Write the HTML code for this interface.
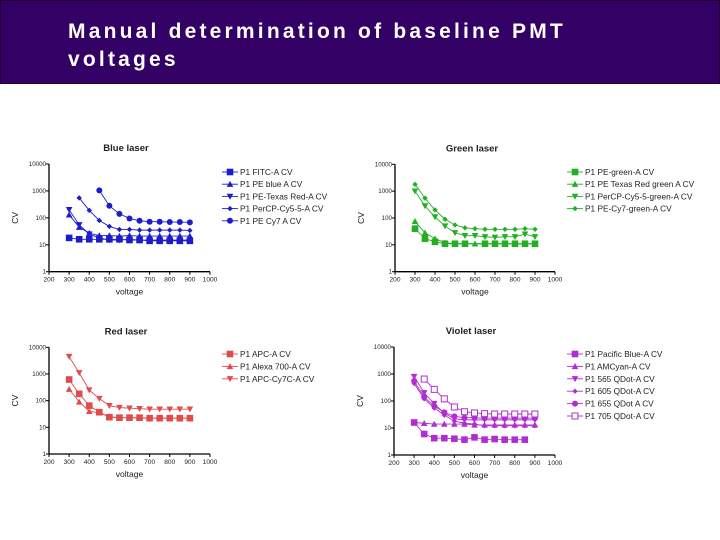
<!DOCTYPE html>
<html><head><meta charset="utf-8">
<style>
body{margin:0;width:720px;height:540px;background:#fff;overflow:hidden;font-family:"Liberation Sans",sans-serif}
#hdr{position:absolute;left:0;top:0;width:718px;height:82px;background:#330066;border:1px solid #1a0033}
#hdr h1{margin:0;position:absolute;left:67px;top:17px;color:#fff;font:bold 21px/28px "Liberation Sans",sans-serif;letter-spacing:3.2px}
svg{position:absolute;left:0;top:0}
</style></head><body>
<div id="hdr"><h1>Manual determination of baseline PMT<br>voltages</h1></div>
<svg id="c" width="720" height="540"></svg>
<script>
const voltages=[300,350,400,450,500,550,600,650,700,750,800,850,900];
const xTicks=[200,300,400,500,600,700,800,900,1000];
const yTicks=[1,10,100,1000,10000];
// Blue laser
const blueNames=["P1 FITC-A CV","P1 PE blue A CV","P1 PE-Texas Red-A CV","P1 PerCP-Cy5-5-A CV","P1 PE Cy7 A CV"];
const blueFITC=[18,16,16,16,16,16,15,15,14,14,14,14,14];
const bluePE=[130,45,27,22,22,21,22,21,21,21,21,21,21];
const bluePETR=[200,55,25,18,15,15,16,15,15,15,15,15,15];
const bluePerCP=[null,550,190,80,48,37,37,35,35,35,35,35,34];
const bluePECy7=[null,null,null,1050,280,140,95,78,72,72,70,70,68];
// Green laser
const greenNames=["P1 PE-green-A CV","P1 PE Texas Red green A CV","P1 PerCP-Cy5-5-green-A CV","P1 PE-Cy7-green-A CV"];
const greenPE=[40,17,13,11,11,11,null,11,11,11,11,11,11];
const greenPETR=[75,28,17,12,11,11,11,11,11,11,11,11,11];
const greenPerCP=[1000,280,110,50,28,22,22,20,19,20,20,25,20];
const greenPECy7=[1800,550,200,90,55,43,40,38,38,38,38,40,38];
// Red laser
const redNames=["P1 APC-A CV","P1 Alexa 700-A CV","P1 APC-Cy7C-A CV"];
const redAPC=[620,180,65,37,24,23,23,23,22,22,22,22,22];
const redAlexa=[270,90,40,35,25,23,23,22,22,22,22,22,22];
const redAPCCy7=[4500,1100,250,120,65,55,52,50,48,48,48,48,48];
// Violet laser
const violetNames=["P1 Pacific Blue-A CV","P1 AMCyan-A CV","P1 565 QDot-A CV","P1 605 QDot-A CV","P1 655 QDot A CV","P1 705 QDot-A CV"];
const violetPB=[16,6,4.2,4.2,4,3.7,4.5,3.7,3.9,3.7,3.7,3.7,null];
const violetAM=[16,15,14,14,14,14,13,13,13,13,13,13,13];
const violet565=[800,200,80,35,22,20,20,20,20,20,20,20,20];
const violet605=[450,120,55,30,18,15,14,12,12,12,12,12,12];
const violet655=[550,140,65,38,27,24,24,23,23,23,23,23,23];
const violet705=[null,650,270,120,60,40,36,34,33,33,33,33,33];

const svg=document.getElementById('c');const NS='http://www.w3.org/2000/svg';
function mk(t,a,p){const e=document.createElementNS(NS,t);for(const k in a)e.setAttribute(k,a[k]);(p||svg).appendChild(e);return e;}
function txt(s,a,p){const e=mk('text',a,p);e.textContent=s;return e;}
function marker(g,type,x,y,col){
  let e;
  if(type==='sq'){e=mk('rect',{x:x-3.3,y:y-3.3,width:6.6,height:6.6,fill:col},g);}
  else if(type==='osq'){e=mk('rect',{x:x-3,y:y-3,width:6,height:6,fill:'#fff',stroke:col,'stroke-width':1},g);}
  else if(type==='tu'){e=mk('polygon',{points:`${x},${y-3.3} ${x-3.3},${y+2.7} ${x+3.3},${y+2.7}`,fill:col},g);}
  else if(type==='td'){e=mk('polygon',{points:`${x},${y+3.3} ${x-3.3},${y-2.7} ${x+3.3},${y-2.7}`,fill:col},g);}
  else if(type==='di'){e=mk('polygon',{points:`${x},${y-2.7} ${x-2.7},${y} ${x},${y+2.7} ${x+2.7},${y}`,fill:col},g);}
  else {e=mk('circle',{cx:x,cy:y,r:3,fill:col},g);}
  
  
}
function chart(o){
  const g=mk('g',{});
  
  
  const X=v=>o.x0+(v-200)/800*(o.x1-o.x0);
  const Y=v=>o.yb-Math.log10(v)/4*(o.yb-o.yt);
  const ax=mk('path',{d:`M${o.x0},${o.yt} V${o.yb} H${o.x1}`,stroke:'#000','stroke-width':1.3,fill:'none'},g);
  
  yTicks.forEach(t=>{const y=Y(t);mk('line',{x1:o.x0-3,y1:y,x2:o.x0,y2:y,stroke:'#000'},g);
    txt(String(t),{x:o.x0-3,y:y+2,'font-size':6.2,'text-anchor':'end',fill:'#222'},g);});
  xTicks.forEach(t=>{const x=X(t);mk('line',{x1:x,y1:o.yb,x2:x,y2:o.yb+3,stroke:'#000'},g);
    txt(String(t),{x:x,y:o.yb+10,'font-size':6.6,'text-anchor':'middle',fill:'#222'},g);});
  txt('voltage',{x:(o.x0+o.x1)/2,y:o.yb+23,'font-size':8.5,'text-anchor':'middle',fill:'#222'},g);
  txt('CV',{x:0,y:0,'font-size':8.5,'text-anchor':'middle',fill:'#222',transform:`translate(${o.x0-31},${(o.yt+o.yb)/2}) rotate(-90)`},g);
  txt(o.title,{x:o.x0+77,y:o.yt-13,'font-size':9.5,'font-weight':'bold','text-anchor':'middle',fill:'#222'},g);
  o.series.forEach((s,i)=>{
    const sg=mk('g',{},g);
    
    
    let d='';let pen=false;
    s.vals.forEach((v,j)=>{if(v==null)return;d+=(pen?'L':'M')+X(voltages[j])+','+Y(v);pen=true;});
    mk('path',{d,stroke:o.col,'stroke-width':0.9,fill:'none'},sg);
    s.vals.forEach((v,j)=>{if(v!=null)marker(sg,s.m,X(voltages[j]),Y(v),o.col);});
    const ly=o.ly+i*o.ls;
    const lg=mk('g',{},g);
    
    
    mk('line',{x1:o.lx,y1:ly,x2:o.lx+16,y2:ly,stroke:o.col,'stroke-width':0.9},lg);
    marker(lg,s.m,o.lx+8,ly,o.col);
    txt(o.names[i],{x:o.lx+18,y:ly+3,'font-size':8.3,fill:'#222'},lg);
  });
}
chart({name:'blue-laser-chart',title:'Blue laser',x0:49,x1:210,yt:164,yb:271.7,col:'#1c1ccc',lx:222,ly:172,ls:12.2,names:blueNames,
  series:[{vals:blueFITC,m:'sq'},{vals:bluePE,m:'tu'},{vals:bluePETR,m:'td'},{vals:bluePerCP,m:'di'},{vals:bluePECy7,m:'ci'}]});
chart({name:'green-laser-chart',title:'Green laser',x0:395,x1:555,yt:164.3,yb:271.7,col:'#22b022',lx:567,ly:172,ls:12.2,names:greenNames,
  series:[{vals:greenPE,m:'sq'},{vals:greenPETR,m:'tu'},{vals:greenPerCP,m:'td'},{vals:greenPECy7,m:'di'}]});
chart({name:'red-laser-chart',title:'Red laser',x0:49,x1:210,yt:347.3,yb:454,col:'#e04b4b',lx:222,ly:354,ls:12.4,names:redNames,
  series:[{vals:redAPC,m:'sq'},{vals:redAlexa,m:'tu'},{vals:redAPCCy7,m:'td'}]});
chart({name:'violet-laser-chart',title:'Violet laser',x0:394,x1:555,yt:347,yb:455,col:'#b02ed0',lx:567,ly:354,ls:12.4,names:violetNames,
  series:[{vals:violetPB,m:'sq'},{vals:violetAM,m:'tu'},{vals:violet565,m:'td'},{vals:violet605,m:'di'},{vals:violet655,m:'ci'},{vals:violet705,m:'osq'}]});
</script>
</body></html>
